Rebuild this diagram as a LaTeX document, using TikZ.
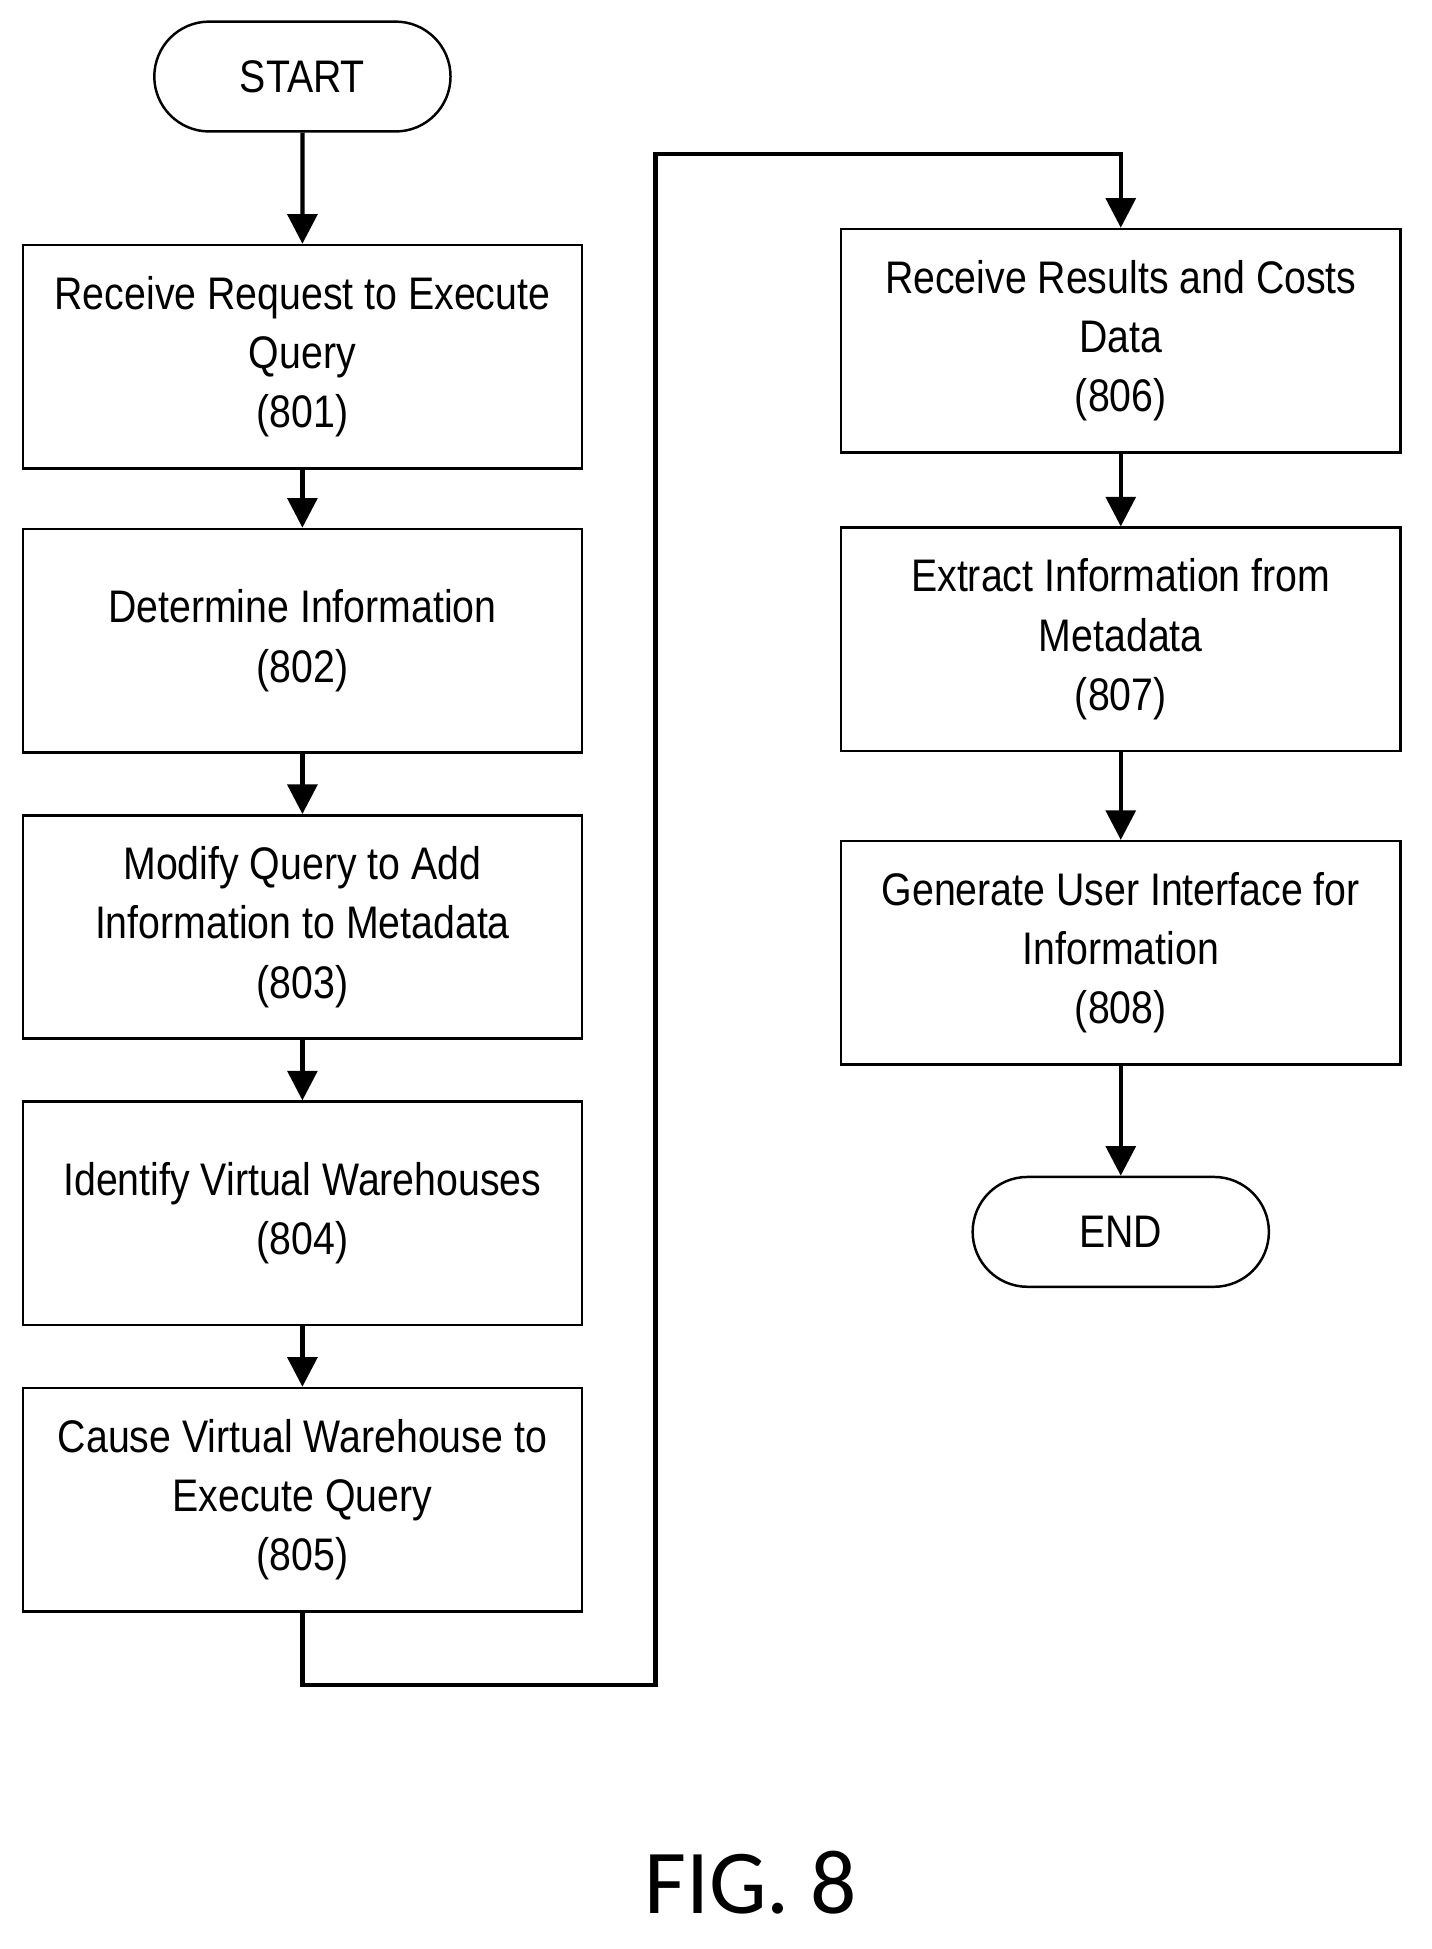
\documentclass[tikz,border=0pt]{standalone}
\usepackage{fontspec}
\setmainfont{Liberation Sans}[FakeStretch=0.86]
\newfontfamily\figfont{Carlito}
\usetikzlibrary{arrows.meta,shapes.misc}
\begin{document}
\begin{tikzpicture}[x=1pt,y=-1pt,
  box/.style={draw,line width=2pt,minimum width=453pt,minimum height=181pt,align=center,inner sep=0pt,
    font=\fontsize{37}{48}\selectfont},
  term/.style={draw,line width=2pt,rounded rectangle,minimum width=240pt,minimum height=89pt,inner sep=0pt,
    font=\fontsize{37}{48}\selectfont},
  arr/.style={line width=3.5pt,-{Triangle[length=24pt,width=24pt]}},
  ln/.style={line width=3.5pt}]
\useasboundingbox (0,0) rectangle (1160,1579);
\node[term] (start) at (245,62) {START};
\node[box] (b801) at (245,289) {Receive Request to Execute\\Query\\(801)};
\node[box] (b802) at (245,519) {Determine Information\\(802)};
\node[box] (b803) at (245,751) {Modify Query to Add\\Information to Metadata\\(803)};
\node[box] (b804) at (245,983) {Identify Virtual Warehouses\\(804)};
\node[box] (b805) at (245,1215) {Cause Virtual Warehouse to\\Execute Query\\(805)};
\node[box] (b806) at (908,276) {Receive Results and Costs\\Data\\(806)};
\node[box] (b807) at (908,518) {Extract Information from\\Metadata\\(807)};
\node[box] (b808) at (908,772) {Generate User Interface for\\Information\\(808)};
\node[term] (end) at (908,998) {END};
\node[font=\figfont\fontsize{74}{80}\selectfont] (fig) at (608,1525) {FIG. 8};
\draw[arr] (start) -- (b801);
\draw[arr] (b801) -- (b802);
\draw[arr] (b802) -- (b803);
\draw[arr] (b803) -- (b804);
\draw[arr] (b804) -- (b805);
\coordinate (c1) at (245,1365);
\coordinate (c2) at (531,1365);
\coordinate (c3) at (531,125);
\coordinate (c4) at (908,125);
\draw[arr] (b805.south) -- (c1) -- (c2) -- (c3) -- (c4) -- (b806.north);
\draw[arr] (b806) -- (b807);
\draw[arr] (b807) -- (b808);
\draw[arr] (b808) -- (end);
\end{tikzpicture}
\end{document}
